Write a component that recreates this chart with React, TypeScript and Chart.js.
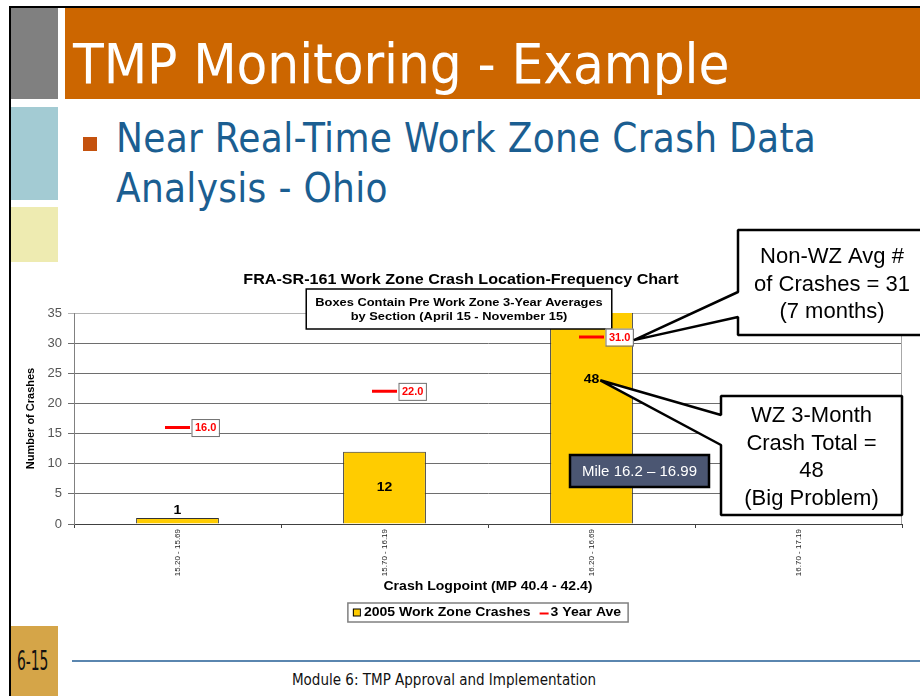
import React, { useEffect, useRef } from 'react';
import { Chart, registerables } from 'chart.js';

Chart.register(...registerables);

// ---------------- data ----------------
const categories = ['15.20 - 15.69', '15.70 - 16.19', '16.20 - 16.69', '16.70 - 17.19'];
const workZoneCrashes: (number | null)[] = [1, 12, 48, null];
const threeYearAve: (number | null)[] = [16.0, 22.0, 31.0, null];
const Y_MIN = 0;
const Y_MAX = 35;
const Y_STEP = 5;
const seriesNames = ['2005 Work Zone Crashes', '3 Year Ave'];
const chartTitle = 'FRA-SR-161 Work Zone Crash Location-Frequency Chart';
const noteLines = ['Boxes Contain Pre Work Zone 3-Year Averages', 'by Section (April 15 - November 15)'];
const xTitle = 'Crash Logpoint (MP 40.4 - 42.4)';
const yTitle = 'Number of Crashes';
const calloutNonWZ = ['Non-WZ Avg #', 'of Crashes = 31', '(7 months)'];
const calloutWZ = ['WZ 3-Month', 'Crash Total =', '48', '(Big Problem)'];
const mileLabel = 'Mile 16.2 \u2013 16.99';
const slideTitle = 'TMP Monitoring - Example';
const bulletLines = ['Near Real-Time Work Zone Crash Data', 'Analysis - Ohio'];
const footerText = 'Module 6: TMP Approval and Implementation';
const pageNumber = '6-15';

const FONT = '"Liberation Sans", Arial, Helvetica, sans-serif';
const SLIDE_FONT = '"DejaVu Sans Condensed", "DejaVu Sans", sans-serif';
const SX = 1.17;

function setFont(ctx: any, size: number, bold: boolean) {
  ctx.font = `${bold ? 'bold ' : ''}${size}px ${FONT}`;
}

function textW(ctx: any, s: string, size: number, bold: boolean, sx: number) {
  ctx.save();
  setFont(ctx, size, bold);
  const w = ctx.measureText(s).width * sx;
  ctx.restore();
  return w;
}

function drawText(ctx: any, s: string, x: number, y: number, size: number, bold: boolean, color: string, align: string, sx: number) {
  ctx.save();
  setFont(ctx, size, bold);
  ctx.fillStyle = color;
  ctx.textAlign = align;
  ctx.textBaseline = 'middle';
  ctx.translate(x, y);
  ctx.scale(sx, 1);
  ctx.fillText(s, 0, 0);
  ctx.restore();
}

function drawCallout(ctx: any, l: number, t: number, r: number, b: number, n1: number, n2: number, tx: number, ty: number) {
  ctx.save();
  ctx.beginPath();
  ctx.moveTo(l, t);
  ctx.lineTo(r, t);
  ctx.lineTo(r, b);
  ctx.lineTo(l, b);
  ctx.lineTo(l, n2);
  ctx.lineTo(tx, ty);
  ctx.lineTo(l, n1);
  ctx.closePath();
  ctx.fillStyle = '#ffffff';
  ctx.fill();
  ctx.lineWidth = 2.5;
  ctx.lineJoin = 'bevel';
  ctx.strokeStyle = '#000000';
  ctx.stroke();
  ctx.restore();
}

const annotations = {
  id: 'annotations',
  beforeDatasetsDraw(chart: any) {
    const { ctx, chartArea: ca } = chart;
    ctx.save();
    ctx.strokeStyle = '#a8a8a8';
    ctx.lineWidth = 1;
    ctx.beginPath();
    ctx.moveTo(ca.right - 0.5, ca.top);
    ctx.lineTo(ca.right - 0.5, ca.bottom);
    ctx.stroke();
    ctx.restore();
  },
  afterDraw(chart: any) {
    const { ctx, chartArea: ca, scales } = chart;
    const ys = scales.y;
    const cx = (ca.left + ca.right) / 2;
    const titleCx = (ys.left + ca.right) / 2;

    // chart title
    drawText(ctx, chartTitle, titleCx, ca.top - 33, 14, true, '#000', 'center', 1.15);

    // note box
    const nw = Math.max(...noteLines.map((s) => textW(ctx, s, 11, true, SX))) + 18;
    const nl = titleCx - 2 - nw / 2;
    ctx.save();
    ctx.fillStyle = '#fff';
    ctx.fillRect(nl, ca.top - 24, nw, 40);
    ctx.lineWidth = 1.5;
    ctx.strokeStyle = '#000';
    ctx.strokeRect(nl, ca.top - 24, nw, 40);
    ctx.restore();
    noteLines.forEach((s, i) => drawText(ctx, s, nl + nw / 2, ca.top - 10 + i * 14, 11, true, '#000', 'center', SX));

    // bar value labels
    let label48: any = null;
    const barMeta = chart.getDatasetMeta(1);
    barMeta.data.forEach((bar: any, i: number) => {
      const v = workZoneCrashes[i];
      if (v == null) return;
      const h = ys.getPixelForValue(0) - ys.getPixelForValue(Math.min(v, Y_MAX));
      const ly = h > 20 ? ys.getPixelForValue(v / 2) : bar.y - 7;
      const s = String(v);
      drawText(ctx, s, bar.x, ly, 12, true, '#000', 'center', SX);
      if (i === 2) label48 = { x: bar.x + textW(ctx, s, 12, true, SX) / 2 + 1, y: ly + 1 };
    });

    // 3-year ave value boxes
    let box31: any = null;
    const lineMeta = chart.getDatasetMeta(0);
    lineMeta.data.forEach((pt: any, i: number) => {
      const v = threeYearAve[i];
      if (v == null) return;
      const s = v.toFixed(1);
      const w = textW(ctx, s, 11, true, 1) + 6;
      const h = 17;
      const l = pt.x + 14;
      const t = pt.y - h / 2;
      ctx.save();
      ctx.fillStyle = '#fff';
      ctx.fillRect(l, t, w, h);
      ctx.strokeStyle = '#707070';
      ctx.lineWidth = 1;
      ctx.strokeRect(l + 0.5, t + 0.5, w, h);
      ctx.restore();
      drawText(ctx, s, l + w / 2 + 0.5, pt.y + 0.5, 11, true, '#FF0000', 'center', 1);
      if (i === 2) box31 = { x: l + w + 1, y: pt.y + 3 };
    });

    // x axis title
    drawText(ctx, xTitle, cx, ca.bottom + 63, 12, true, '#000', 'center', SX);

    // legend
    const t1 = textW(ctx, seriesNames[0], 12, true, SX);
    const t2 = textW(ctx, seriesNames[1], 12, true, SX);
    const lw = 5 + 7 + 4 + t1 + 9 + 9 + 2 + t2 + 7;
    const ll = cx - lw / 2;
    const lt = ca.bottom + 79;
    const lh = 19;
    const lcy = lt + lh / 2;
    ctx.save();
    ctx.fillStyle = '#fff';
    ctx.fillRect(ll, lt, lw, lh);
    ctx.strokeStyle = '#808080';
    ctx.lineWidth = 1.5;
    ctx.strokeRect(ll, lt, lw, lh);
    let xx = ll + 5;
    ctx.fillStyle = '#FFCC00';
    ctx.fillRect(xx, lcy - 3.5, 7, 7);
    ctx.strokeStyle = '#000';
    ctx.lineWidth = 1;
    ctx.strokeRect(xx + 0.5, lcy - 3.5, 7, 7);
    ctx.restore();
    xx += 11;
    drawText(ctx, seriesNames[0], xx, lcy + 0.5, 12, true, '#000', 'left', SX);
    xx += t1 + 9;
    ctx.save();
    ctx.strokeStyle = '#FF0000';
    ctx.lineWidth = 2;
    ctx.beginPath();
    ctx.moveTo(xx, lcy + 1);
    ctx.lineTo(xx + 9, lcy + 1);
    ctx.stroke();
    ctx.restore();
    xx += 11;
    drawText(ctx, seriesNames[1], xx, lcy + 0.5, 12, true, '#000', 'left', SX);

    // Mile box
    ctx.save();
    ctx.fillStyle = '#4B5672';
    ctx.fillRect(570, 455, 139, 32);
    ctx.strokeStyle = '#000';
    ctx.lineWidth = 2.5;
    ctx.strokeRect(570, 455, 139, 32);
    ctx.restore();
    drawText(ctx, mileLabel, 639.5, 471.5, 15, false, '#ffffff', 'center', 1);

    // callouts
    if (box31) {
      drawCallout(ctx, 738, 230, 927, 335, 292, 317, box31.x, box31.y);
      calloutNonWZ.forEach((s, i) => drawText(ctx, s, 832, 257 + i * 27.5, 22, false, '#000', 'center', 1));
    }
    if (label48) {
      drawCallout(ctx, 721, 396, 902, 515, 415, 445, label48.x, label48.y);
      calloutWZ.forEach((s, i) => drawText(ctx, s, 811.5, 416 + i * 27.6, 22, false, '#000', 'center', 1));
    }
  },
};

export default function App() {
  const ref = useRef<HTMLCanvasElement | null>(null);

  useEffect(() => {
    const canvas = ref.current;
    if (!canvas) return;
    const chart = new Chart(canvas, {
      type: 'bar',
      data: {
        labels: categories,
        datasets: [
          {
            type: 'line',
            label: seriesNames[1],
            data: threeYearAve,
            order: 0,
            showLine: false,
            pointStyle: 'line',
            pointRadius: 12.5,
            pointHoverRadius: 12.5,
            pointBorderWidth: 3,
            pointBorderColor: '#FF0000',
            borderColor: '#FF0000',
            backgroundColor: '#FF0000',
          } as any,
          {
            type: 'bar',
            label: seriesNames[0],
            data: workZoneCrashes,
            order: 1,
            backgroundColor: '#FFCC00',
            borderColor: '#333333',
            borderWidth: 1,
            barPercentage: 0.4,
            categoryPercentage: 1,
          } as any,
        ],
      },
      options: {
        responsive: false,
        animation: false,
        devicePixelRatio: 1,
        events: [],
        layout: { padding: { top: 313, left: 20, right: 18, bottom: 112 } },
        plugins: {
          legend: { display: false },
          title: { display: false },
          tooltip: { enabled: false },
        },
        scales: {
          x: {
            offset: true,
            grid: { drawOnChartArea: false, offset: true, tickLength: 4, color: '#404040' },
            border: { color: '#404040' },
            ticks: {
              minRotation: 90,
              maxRotation: 90,
              autoSkip: false,
              padding: 1,
              color: '#222222',
              font: { family: FONT, size: 8 },
            },
            afterFit: (s: any) => {
              s.height = 60;
            },
          },
          y: {
            min: Y_MIN,
            max: Y_MAX,
            ticks: { stepSize: Y_STEP, padding: 6, color: '#555555', font: { family: FONT, size: 13 } },
            grid: {
              tickLength: 6,
              color: (c: any) => (c.tick && c.tick.value === Y_MAX ? '#b4b4b4' : '#6e6e6e'),
            },
            border: { color: '#808080' },
            title: {
              display: true,
              text: yTitle,
              color: '#000000',
              font: { family: FONT, size: 11, weight: 'bold' },
              padding: { top: 4, bottom: 4 },
            },
            afterFit: (s: any) => {
              s.width = 54;
            },
          },
        },
      } as any,
      plugins: [annotations],
    });
    return () => chart.destroy();
  }, []);

  const abs = (l: number, t: number, w: number, h: number, bg: string): React.CSSProperties => ({
    position: 'absolute',
    left: l,
    top: t,
    width: w,
    height: h,
    background: bg,
  });

  return (
    <div style={{ position: 'absolute', left: 0, top: 0, width: 920, height: 696, background: '#fff', overflow: 'hidden' }}>
      <div style={abs(9, 6, 911, 2, '#000')} />
      <div style={abs(9, 6, 2, 690, '#000')} />
      <div style={abs(11, 8, 47, 91, '#808080')} />
      <div style={abs(65, 8, 855, 91, '#CC6600')} />
      <div style={abs(11, 107, 47, 93, '#A3CBD3')} />
      <div style={abs(11, 207, 47, 55, '#EEEBB1')} />
      <div style={abs(11, 626, 47, 70, '#D5A548')} />
      <div style={abs(83, 137, 14, 14, '#C4520E')} />
      <div style={abs(72, 660, 848, 2, '#5A86AF')} />
      <div
        style={{
          position: 'absolute',
          left: 73,
          top: 35.6,
          fontFamily: SLIDE_FONT,
          fontSize: 56,
          lineHeight: 1,
          color: '#ffffff',
          whiteSpace: 'nowrap',
          letterSpacing: -0.1,
        }}
      >
        {slideTitle}
      </div>
      {bulletLines.map((s, i) => (
        <div
          key={i}
          style={{
            position: 'absolute',
            left: 116,
            top: 118.2 + i * 50,
            fontFamily: SLIDE_FONT,
            fontSize: 40,
            lineHeight: 1,
            color: '#1B5E91',
            whiteSpace: 'nowrap',
            letterSpacing: 0.3,
          }}
        >
          {s}
        </div>
      ))}
      <div
        style={{
          position: 'absolute',
          left: 244,
          width: 400,
          top: 672.8,
          textAlign: 'center',
          fontFamily: SLIDE_FONT,
          fontSize: 15,
          lineHeight: 1,
          color: '#111',
          whiteSpace: 'nowrap',
        }}
      >
        {footerText}
      </div>
      <div
        style={{
          position: 'absolute',
          left: 17,
          top: 647,
          fontFamily: SLIDE_FONT,
          fontSize: 27,
          lineHeight: 1,
          color: '#111',
          whiteSpace: 'nowrap',
          transform: 'scaleX(0.57)',
          transformOrigin: '0 0',
        }}
      >
        {pageNumber}
      </div>
      <canvas
        ref={ref}
        width={920}
        height={696}
        style={{ position: 'absolute', left: 0, top: 0, width: 920, height: 696, pointerEvents: 'none' }}
      />
    </div>
  );
}
